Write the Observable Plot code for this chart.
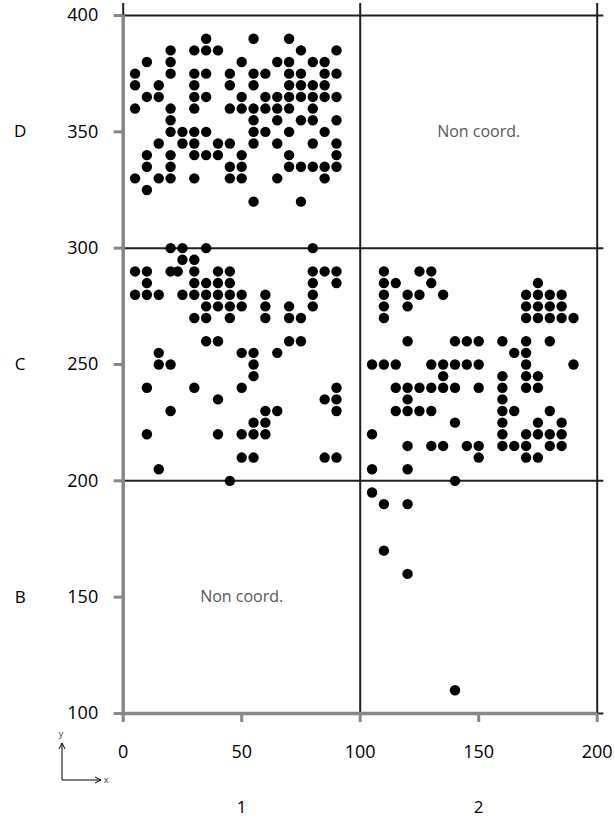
<!DOCTYPE html>
<html><head><meta charset="utf-8">
<script src="https://cdn.jsdelivr.net/npm/d3@7"></script>
<script src="https://cdn.jsdelivr.net/npm/@observablehq/plot@0.6"></script>
<style>body{margin:0;background:#fff} #chart{width:614px;height:826px}</style>
</head><body><div id="chart"></div>
<script>
const xTicks = [0, 50, 100, 150, 200];
const yTicks = [100, 150, 200, 250, 300, 350, 400];
const rowCategories = ["B", "C", "D"];
const rowCenters = [150, 250, 350];
const colCategories = ["1", "2"];
const colCenters = [50, 150];
const gridX = [0, 100, 200];
const gridY = [100, 200, 300, 400];
const emptyLabels = ["Non coord.", "Non coord."];
const emptyX = [150, 50];
const emptyY = [350, 150];

// rows: [y, [x values]]
const cellD1 = [
  [390, [35, 55, 70]],
  [385, [20, 30, 35, 40, 75, 90]],
  [380, [10, 20, 50, 65, 70, 80, 85]],
  [375, [5, 20, 30, 35, 45, 55, 60, 70, 75, 85, 90]],
  [370, [5, 15, 30, 45, 55, 70, 75, 80, 85]],
  [365, [10, 15, 30, 35, 50, 60, 65, 70, 75, 80, 85, 90]],
  [360, [5, 20, 30, 45, 50, 55, 60, 65, 70, 80]],
  [355, [20, 55, 65, 75, 80, 90]],
  [350, [20, 25, 30, 35, 55, 60, 70, 85]],
  [345, [15, 25, 30, 40, 45, 55, 65, 80, 90]],
  [340, [10, 20, 30, 35, 40, 50, 70, 90]],
  [335, [10, 20, 45, 50, 70, 75, 80, 85, 90]],
  [330, [5, 15, 20, 30, 45, 50, 65, 85]],
  [325, [10]],
  [320, [55, 75]]
];
const cellC1 = [
  [300, [20, 25, 35, 80]],
  [295, [25, 30]],
  [290, [5, 10, 20, 23, 30, 40, 45, 80, 85, 90]],
  [285, [10, 30, 35, 40, 45, 80, 90]],
  [280, [5, 10, 15, 25, 30, 35, 40, 45, 50, 60, 80]],
  [275, [35, 40, 45, 50, 60, 70, 80]],
  [270, [30, 35, 45, 60, 70, 75]],
  [260, [35, 40, 70, 75]],
  [255, [15, 50, 55, 65]],
  [250, [15, 20, 55]],
  [245, [55]],
  [240, [10, 30, 50, 90]],
  [235, [40, 85, 90]],
  [230, [20, 60, 65, 90]],
  [225, [55, 60]],
  [220, [10, 40, 50, 55, 60]],
  [210, [50, 55, 85, 90]],
  [205, [15]],
  [200, [45]]
];
const cellC2 = [
  [290, [110, 125, 130]],
  [285, [110, 115, 130, 175]],
  [280, [110, 120, 125, 135, 170, 175, 180, 185]],
  [275, [110, 120, 170, 175, 180, 185]],
  [270, [110, 170, 175, 180, 185, 190]],
  [260, [120, 140, 145, 150, 160, 170, 180]],
  [255, [165, 170]],
  [250, [105, 110, 115, 130, 135, 140, 145, 150, 170, 190]],
  [245, [135, 160, 170, 175]],
  [240, [115, 120, 125, 130, 135, 140, 150, 160, 170, 175]],
  [235, [120, 160]],
  [230, [115, 120, 125, 130, 160, 165, 180]],
  [225, [140, 160, 175, 185]],
  [220, [105, 160, 170, 175, 180, 185]],
  [215, [120, 130, 135, 145, 150, 160, 165, 170, 180, 185]],
  [210, [150, 170, 175]],
  [205, [105, 120]],
  [200, [140]]
];
const cellB2 = [
  [195, [105]],
  [190, [110, 120]],
  [170, [110]],
  [160, [120]],
  [110, [140]]
];

const points = [cellD1, cellC1, cellC2, cellB2]
  .flat()
  .flatMap(([y, xs]) => xs.map(x => ({x, y})));

const rowLabels = rowCategories.map((c, i) => ({label: c, y: rowCenters[i]}));
const colLabels = colCategories.map((c, i) => ({label: c, x: colCenters[i]}));
const empties = emptyLabels.map((l, i) => ({label: l, x: emptyX[i], y: emptyY[i]}));

const gray = "#878787";
const ink = "#231f20";

const chart = Plot.plot({
  width: 614,
  height: 826,
  marginLeft: 122.7,
  marginRight: 17.3,
  marginTop: 15,
  marginBottom: 113,
  x: {domain: [0, 200]},
  y: {domain: [100, 400]},
  style: {fontFamily: "'Open Sans', sans-serif", background: "#fff", color: "#000"},
  marks: [
    Plot.ruleX(gridX, {x: d => d, y1: () => 100, y2: () => 405.2, stroke: ink, strokeWidth: 2}),
    Plot.ruleY(gridY, {y: d => d, x1: () => 0, x2: () => 202.8, stroke: ink, strokeWidth: 2}),
    Plot.dot(points, {x: "x", y: "y", r: 5.2, fill: "#000", stroke: null}),
    Plot.ruleX([0], {stroke: gray, strokeWidth: 3.5}),
    Plot.ruleY([100], {stroke: gray, strokeWidth: 3.5}),
    Plot.axisY({ticks: yTicks, tickSize: 9, tickPadding: 16, stroke: gray, strokeWidth: 3, fill: "#000", fontSize: 18, label: null, tickFormat: d => String(d)}),
    Plot.axisX({ticks: xTicks, tickSize: 9, tickPadding: 23, stroke: gray, strokeWidth: 3, fill: "#000", fontSize: 18, label: null, tickFormat: d => String(d)}),
    Plot.text(rowLabels, {y: "y", text: "label", frameAnchor: "left", dx: -103, textAnchor: "middle", fontSize: 17, fill: "#000"}),
    Plot.text(colLabels, {x: "x", text: "label", frameAnchor: "bottom", dy: 99, textAnchor: "middle", fontSize: 17, fill: "#000"}),
    Plot.text(empties, {x: "x", y: "y", text: "label", fontSize: 16, fill: "#595959"})
  ]
});

document.getElementById("chart").appendChild(chart);

// small axis orientation glyph (decoration)
const svg = d3.select(chart);
const g = svg.append("g").attr("transform", "translate(62,780)").attr("fill", "none").attr("stroke", "#000").attr("stroke-width", 1);
g.append("path").attr("d", "M0,0V-37M-3,-31L0,-37L3,-31");
g.append("path").attr("d", "M0,0H39M33,-3L39,0L33,3");
svg.append("text").attr("x", 61).attr("y", 737).attr("font-size", 9).attr("text-anchor", "middle").attr("fill", "#333").text("y");
svg.append("text").attr("x", 106).attr("y", 783).attr("font-size", 9).attr("text-anchor", "middle").attr("fill", "#333").text("x");
</script>
</body></html>
